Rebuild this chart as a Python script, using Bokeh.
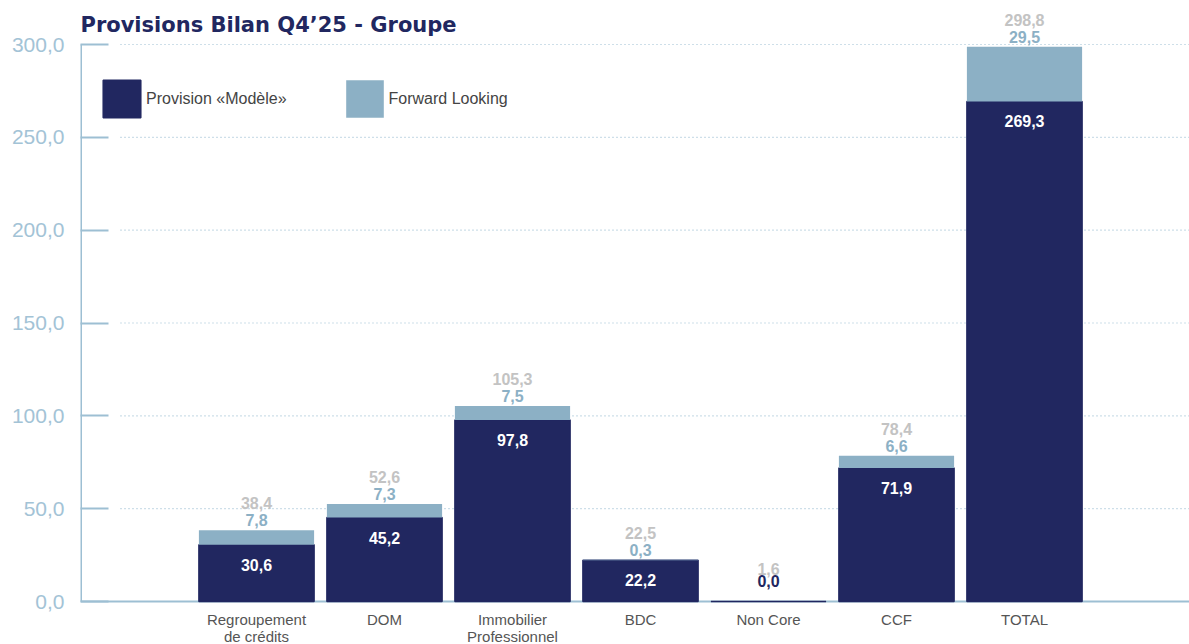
from bokeh.plotting import figure
from bokeh.models import Range1d, ColumnDataSource, Legend, LegendItem, FixedTicker
from bokeh.core.properties import value
from bokeh.embed import file_html
from bokeh.resources import INLINE

# ---------------- data ----------------
title_text = "Provisions Bilan Q4’25 - Groupe"
categories = ["Regroupement\nde crédits", "DOM", "Immobilier\nProfessionnel", "BDC", "Non Core", "CCF", "TOTAL"]
modele = [30.6, 45.2, 97.8, 22.2, 0.0, 71.9, 269.3]
forward = [7.8, 7.3, 7.5, 0.3, None, 6.6, 29.5]
totaux = [38.4, 52.6, 105.3, 22.5, 1.6, 78.4, 298.8]
y_ticks = [0, 50, 100, 150, 200, 250, 300]
series_names = ["Provision «Modèle»", "Forward Looking"]

# ---------------- style ----------------
NAVY = "#212760"
LIGHT = "#8cb0c5"
GRAY = "#c3c3c3"
AXIS = "#9dbfd3"
FONT = "Liberation Sans"

W, H = 1189, 644
BORDER_L = 80
ZERO_PX, TOP_PX = 601, 44          # pixel rows of 0 and 300
ppu = (ZERO_PX - TOP_PX) / 300.0    # pixels per unit
y_start = -(H - ZERO_PX) / ppu
y_end = ZERO_PX / ppu
x_start = -0.375
x_end = x_start + (W - BORDER_L) / 128.0

def fmt(v):
    return f"{v:.1f}".replace(".", ",")

xs = list(range(1, len(categories) + 1))
fl_vals = [f if f is not None else 0.0 for f in forward]
tops = [m + f for m, f in zip(modele, fl_vals)]

p = figure(width=W, height=H, output_backend="svg", toolbar_location=None,
           x_range=Range1d(x_start, x_end), y_range=Range1d(y_start, y_end),
           min_border_left=BORDER_L, min_border_right=0, min_border_top=0,
           min_border_bottom=0)
p.outline_line_color = None
p.background_fill_color = "white"
p.xgrid.visible = False
p.ygrid.visible = False
p.xaxis.visible = False

# grid lines (dotted), except at zero
gt = [t for t in y_ticks if t > 0]
p.segment(x0=[-0.0625] * len(gt), x1=[x_end] * len(gt), y0=gt, y1=gt,
          line_color=AXIS, line_dash="1 3", line_width=1.2)
# left spine, only up to the top tick
p.segment(x0=[x_start], x1=[x_start], y0=[0], y1=[max(y_ticks)], line_color=AXIS, line_width=3)
# x axis baseline
p.segment(x0=[x_start], x1=[x_end], y0=[0], y1=[0], line_color=AXIS, line_width=2)

src = ColumnDataSource(dict(x=xs, modele=modele, fl=fl_vals, top=tops))
r_mod = p.vbar(x="x", width=0.9, bottom=0, top="modele", source=src,
               fill_color=NAVY, line_color=NAVY, line_width=1.5)
r_fl = p.vbar(x="x", width=0.9, bottom="modele", top="top", source=src,
              fill_color=LIGHT, line_color=None)

# value labels
mod_y, mod_col, fl_x, fl_y, fl_t, tot_y = [], [], [], [], [], []
for x, m, f, t in zip(xs, modele, forward, tops):
    if f is None:
        mod_y.append(t + 21 / ppu)
        mod_col.append(NAVY)
        tot_y.append(t + 33 / ppu)
    else:
        mod_y.append(m - 20 / ppu)
        mod_col.append("white")
        fl_x.append(x)
        fl_y.append(t + 10 / ppu)
        fl_t.append(fmt(f))
        tot_y.append(t + 27 / ppu)

common = dict(text_align="center", text_baseline="middle", text_font=value(FONT),
              text_font_style="bold", text_font_size="16px")
p.text(x=xs, y=mod_y, text=[fmt(v) for v in modele], text_color=mod_col, **common)
p.text(x=fl_x, y=fl_y, text=fl_t, text_color=LIGHT, **common)
p.text(x=xs, y=tot_y, text=[fmt(v) for v in totaux], text_color=GRAY, **common)

# category labels below the baseline
p.text(x=xs, y=[-9 / ppu] * len(xs), text=categories, text_color="#555555",
       text_align="center", text_baseline="top", text_font=value(FONT),
       text_font_size="15px", text_line_height=1.05)

# title
p.text(x=[x_start], y=[(ZERO_PX - 24) / ppu], text=[title_text], text_color=NAVY,
       text_align="left", text_baseline="middle", text_font=value("DejaVu Sans"),
       text_font_style="bold", text_font_size="21px")

# y axis
p.yaxis.ticker = FixedTicker(ticks=y_ticks)
p.yaxis.major_label_overrides = {t: fmt(t) for t in y_ticks}
p.yaxis.axis_line_color = None
p.yaxis.major_tick_in = 28
p.yaxis.major_tick_out = 0
p.yaxis.major_tick_line_color = AXIS
p.yaxis.major_tick_line_width = 2
p.yaxis.minor_tick_line_color = None
p.yaxis.major_label_standoff = 16
p.yaxis.major_label_text_color = "#a3c3d6"
p.yaxis.major_label_text_font = FONT
p.yaxis.major_label_text_font_size = "21px"

legend = Legend(items=[LegendItem(label=series_names[0], renderers=[r_mod]),
                       LegendItem(label=series_names[1], renderers=[r_fl])],
                location=(18, H - 122), orientation="horizontal",
                glyph_width=47, glyph_height=47, label_standoff=1, spacing=54,
                padding=0, margin=0, border_line_color=None, background_fill_alpha=0,
                label_text_font=FONT, label_text_font_size="16px",
                label_text_color="#444444")
p.add_layout(legend)

open("out.html", "w").write(file_html(p, INLINE))
